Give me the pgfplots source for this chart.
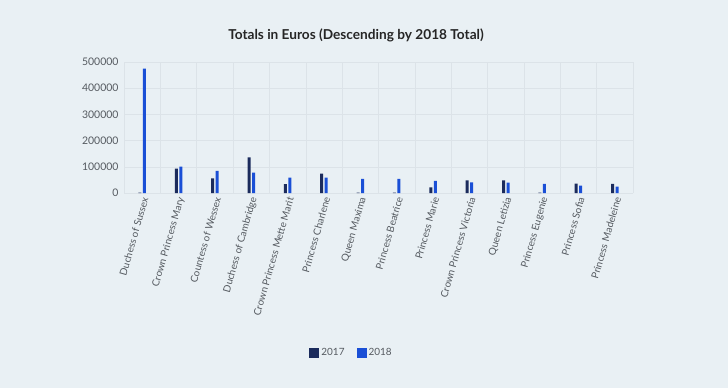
\documentclass[border=0pt]{standalone}
\usepackage{pgfplots}
\pgfplotsset{compat=1.18}
\usepackage{fontspec}
\setmainfont{Lato}
\definecolor{bg}{HTML}{E9F0F4}
\definecolor{c17}{HTML}{1B2B5C}
\definecolor{c18}{HTML}{1A4FD6}
\definecolor{gridc}{HTML}{DCE3E8}
\definecolor{tickc}{HTML}{555A60}
\begin{document}
\begin{tikzpicture}[x=1bp,y=1bp]
\fill[bg] (0,0) rectangle (728,388);
\node[font=\bfseries\fontsize{13.7}{15}\selectfont, text=black!85] at (356,353) {Totals in Euros (Descending by 2018 Total)};
\begin{axis}[
  at={(124bp,195bp)}, anchor=south west,
  scale only axis, width=509bp, height=131bp,
  xmin=-0.5, xmax=13.5, ymin=0, ymax=500000,
  axis line style={draw=none},
  axis x line*=bottom,
  x axis line style={draw=gridc},
  ytick={0,100000,...,500000},
  scaled y ticks=false,
  yticklabel style={/pgf/number format/fixed, /pgf/number format/1000 sep={}, text=tickc, font=\fontsize{10.5}{12}\selectfont, xshift=-2bp},
  /pgf/number format/assume math mode=true,
  ymajorgrids, grid style={gridc, line width=0.5pt},
  xtick={0,...,13},
  xticklabels={Duchess of Sussex, Crown Princess Mary, Countess of Wessex, Duchess of Cambridge, Crown Princess Mette Marit, Princess Charlene, Queen Maxima, Princess Beatrice, Princess Marie, Crown Princess Victoria, Queen Letizia, Princess Eugenie, Princess Sofia, Princess Madeleine},
  xticklabel style={rotate=74, anchor=east, text=tickc, font=\fontsize{10}{12}\selectfont, xshift=0bp, yshift=-4bp},
  minor xtick={-0.5,0.5,...,13.5},
  xminorgrids, minor grid style={gridc, line width=0.5pt},
  major tick length=0pt, minor tick length=0pt,
  ybar=1.5bp, bar width=3bp,
  legend style={at={(0.447,-1.22)}, anchor=center, draw=none, fill=none, legend columns=2, font=\fontsize{10}{12}\selectfont, text=tickc, /tikz/every even column/.append style={column sep=10bp}},
  legend image code/.code={\fill[#1] (0bp,-5bp) rectangle (10bp,5bp);},
]
\addplot[fill=c17, draw=none] coordinates {(0,1500) (1,93000) (2,56000) (3,136000) (4,34000) (5,74000) (6,1500) (7,1500) (8,21400) (9,48000) (10,48000) (11,1500) (12,35600) (13,34500)};
\addplot[fill=c18, draw=none] coordinates {(0,474700) (1,100700) (2,84000) (3,78000) (4,58600) (5,58600) (6,53600) (7,53600) (8,46000) (9,40600) (10,39400) (11,34500) (12,28000) (13,24000)};
\legend{2017,2018}
\end{axis}
\end{tikzpicture}
\end{document}
